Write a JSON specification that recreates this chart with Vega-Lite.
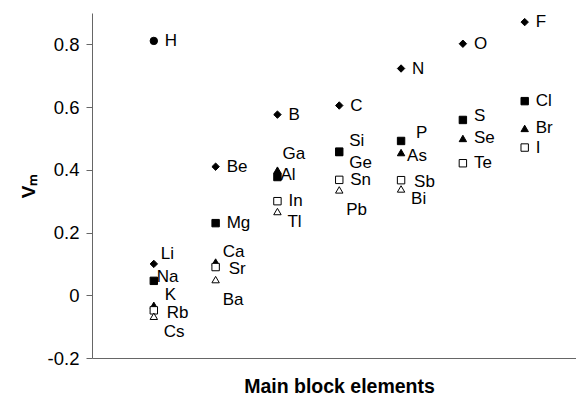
{
  "$schema": "https://vega.github.io/schema/vega-lite/v6.json",
  "width": 484,
  "height": 345,
  "autosize": "none",
  "padding": {"left": 92, "top": 13, "right": 0, "bottom": 42},
  "background": "white",
  "config": {"view": {"stroke": null}, "font": "Liberation Sans"},
  "data": {"values": [
    {"el": "H", "group": 1, "period": "1", "vm": 0.811},
    {"el": "Li", "group": 1, "period": "2", "vm": 0.100},
    {"el": "Na", "group": 1, "period": "3", "vm": 0.046},
    {"el": "K", "group": 1, "period": "4", "vm": -0.032},
    {"el": "Rb", "group": 1, "period": "5", "vm": -0.048},
    {"el": "Cs", "group": 1, "period": "6", "vm": -0.067},
    {"el": "Be", "group": 2, "period": "2", "vm": 0.41},
    {"el": "Mg", "group": 2, "period": "3", "vm": 0.23},
    {"el": "Ca", "group": 2, "period": "4", "vm": 0.106},
    {"el": "Sr", "group": 2, "period": "5", "vm": 0.09},
    {"el": "Ba", "group": 2, "period": "6", "vm": 0.05},
    {"el": "B", "group": 3, "period": "2", "vm": 0.576},
    {"el": "Ga", "group": 3, "period": "4", "vm": 0.399},
    {"el": "Al", "group": 3, "period": "3", "vm": 0.377},
    {"el": "In", "group": 3, "period": "5", "vm": 0.30},
    {"el": "Tl", "group": 3, "period": "6", "vm": 0.267},
    {"el": "C", "group": 4, "period": "2", "vm": 0.605},
    {"el": "Ge", "group": 4, "period": "4", "vm": 0.455},
    {"el": "Si", "group": 4, "period": "3", "vm": 0.458},
    {"el": "Sn", "group": 4, "period": "5", "vm": 0.368},
    {"el": "Pb", "group": 4, "period": "6", "vm": 0.336},
    {"el": "N", "group": 5, "period": "2", "vm": 0.723},
    {"el": "P", "group": 5, "period": "3", "vm": 0.492},
    {"el": "As", "group": 5, "period": "4", "vm": 0.455},
    {"el": "Sb", "group": 5, "period": "5", "vm": 0.367},
    {"el": "Bi", "group": 5, "period": "6", "vm": 0.339},
    {"el": "O", "group": 6, "period": "2", "vm": 0.802},
    {"el": "S", "group": 6, "period": "3", "vm": 0.559},
    {"el": "Se", "group": 6, "period": "4", "vm": 0.50},
    {"el": "Te", "group": 6, "period": "5", "vm": 0.421},
    {"el": "F", "group": 7, "period": "2", "vm": 0.871},
    {"el": "Cl", "group": 7, "period": "3", "vm": 0.619},
    {"el": "Br", "group": 7, "period": "4", "vm": 0.532},
    {"el": "I", "group": 7, "period": "5", "vm": 0.471}
  ]},
  "encoding": {
    "x": {
      "field": "group", "type": "quantitative",
      "scale": {"domain": [0, 7.83], "nice": false, "zero": false},
      "axis": {
        "title": "Main block elements", "titleFontSize": 19.5, "titleFontWeight": "bold",
        "titleColor": "black", "titlePadding": 19, "ticks": false, "labels": false,
        "grid": false, "domainColor": "#666666", "titleX": 247
      }
    },
    "y": {
      "field": "vm", "type": "quantitative",
      "scale": {"domain": [-0.2, 0.9], "nice": false, "zero": false},
      "axis": {
        "title": "V\u2098", "titleFontSize": 19, "titleFontWeight": "bold", "titleColor": "black",
        "values": [-0.2, 0, 0.2, 0.4, 0.6, 0.8],
        "labelExpr": "datum.value == 0 ? '0' : toString(round(datum.value * 10) / 10)",
        "labelFontSize": 18.5, "labelColor": "black", "tickSize": 6, "tickColor": "#666666",
        "domainColor": "#666666", "labelPadding": 7, "grid": false, "titlePadding": 9
      }
    }
  },
  "layer": [
    {
      "mark": {"type": "point", "filled": true, "stroke": "black", "strokeWidth": 1, "opacity": 1, "size": 55},
      "encoding": {
        "shape": {"field": "period", "type": "nominal", "legend": null,
          "scale": {"domain": ["1", "2", "3", "4", "5", "6"], "range": ["circle", "diamond", "square", "triangle-up", "square", "triangle-up"]}},
        "fill": {"field": "period", "type": "nominal", "legend": null,
          "scale": {"domain": ["1", "2", "3", "4", "5", "6"], "range": ["black", "black", "black", "black", "white", "white"]}}
      }
    },
    {
      "transform": [{"filter": {"field": "el", "oneOf": ["H", "Be", "Mg", "B", "In", "C", "Sn", "N", "O", "Se", "Te", "F", "Cl", "Br", "I"]}}],
      "mark": {"type": "text", "align": "left", "baseline": "middle", "fontSize": 17, "dx": 11, "dy": 0, "color": "black"},
      "encoding": {"text": {"field": "el"}}
    },
    {
      "transform": [{"filter": {"field": "el", "oneOf": ["Sr", "Sb"]}}],
      "mark": {"type": "text", "align": "left", "baseline": "middle", "fontSize": 17, "dx": 13, "dy": 2, "color": "black"},
      "encoding": {"text": {"field": "el"}}
    },
    {
      "transform": [{"filter": {"field": "el", "oneOf": ["Rb"]}}],
      "mark": {"type": "text", "align": "left", "baseline": "middle", "fontSize": 17, "dx": 13, "dy": 3, "color": "black"},
      "encoding": {"text": {"field": "el"}}
    },
    {
      "transform": [{"filter": {"field": "el", "oneOf": ["Li", "Ca"]}}],
      "mark": {"type": "text", "align": "left", "baseline": "middle", "fontSize": 17, "dx": 7, "dy": -10, "color": "black"},
      "encoding": {"text": {"field": "el"}}
    },
    {
      "transform": [{"filter": {"field": "el", "oneOf": ["Si"]}}],
      "mark": {"type": "text", "align": "left", "baseline": "middle", "fontSize": 17, "dx": 10, "dy": -11, "color": "black"},
      "encoding": {"text": {"field": "el"}}
    },
    {
      "transform": [{"filter": {"field": "el", "oneOf": ["K"]}}],
      "mark": {"type": "text", "align": "left", "baseline": "middle", "fontSize": 17, "dx": 11, "dy": -10, "color": "black"},
      "encoding": {"text": {"field": "el"}}
    },
    {
      "transform": [{"filter": {"field": "el", "oneOf": ["Tl", "Ge", "Bi"]}}],
      "mark": {"type": "text", "align": "left", "baseline": "middle", "fontSize": 17, "dx": 10, "dy": 10, "color": "black"},
      "encoding": {"text": {"field": "el"}}
    },
    {
      "transform": [{"filter": {"field": "el", "oneOf": ["Cs"]}}],
      "mark": {"type": "text", "align": "left", "baseline": "middle", "fontSize": 17, "dx": 10, "dy": 16, "color": "black"},
      "encoding": {"text": {"field": "el"}}
    },
    {
      "transform": [{"filter": {"field": "el", "oneOf": ["Ba", "Pb"]}}],
      "mark": {"type": "text", "align": "left", "baseline": "middle", "fontSize": 17, "dx": 7, "dy": 20, "color": "black"},
      "encoding": {"text": {"field": "el"}}
    },
    {
      "transform": [{"filter": {"field": "el", "oneOf": ["Na"]}}],
      "mark": {"type": "text", "align": "left", "baseline": "middle", "fontSize": 17, "dx": 3, "dy": -4, "color": "black"},
      "encoding": {"text": {"field": "el"}}
    },
    {
      "transform": [{"filter": {"field": "el", "oneOf": ["Al"]}}],
      "mark": {"type": "text", "align": "left", "baseline": "middle", "fontSize": 17, "dx": 3, "dy": -2, "color": "black"},
      "encoding": {"text": {"field": "el"}}
    },
    {
      "transform": [{"filter": {"field": "el", "oneOf": ["As"]}}],
      "mark": {"type": "text", "align": "left", "baseline": "middle", "fontSize": 17, "dx": 6, "dy": 3, "color": "black"},
      "encoding": {"text": {"field": "el"}}
    },
    {
      "transform": [{"filter": {"field": "el", "oneOf": ["Ga"]}}],
      "mark": {"type": "text", "align": "left", "baseline": "middle", "fontSize": 17, "dx": 5, "dy": -16, "color": "black"},
      "encoding": {"text": {"field": "el"}}
    },
    {
      "transform": [{"filter": {"field": "el", "oneOf": ["P"]}}],
      "mark": {"type": "text", "align": "left", "baseline": "middle", "fontSize": 17, "dx": 15, "dy": -8, "color": "black"},
      "encoding": {"text": {"field": "el"}}
    },
    {
      "transform": [{"filter": {"field": "el", "oneOf": ["S"]}}],
      "mark": {"type": "text", "align": "left", "baseline": "middle", "fontSize": 17, "dx": 11, "dy": -4, "color": "black"},
      "encoding": {"text": {"field": "el"}}
    }
  ]
}
